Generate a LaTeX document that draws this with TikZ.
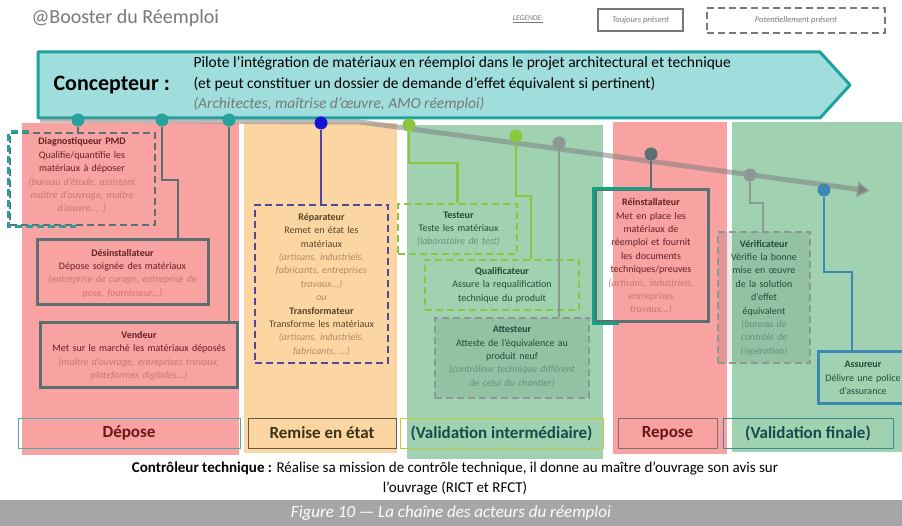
\documentclass[tikz,border=0pt]{standalone}
\usepackage{fontspec}
\setmainfont{Carlito}
\usepackage{xcolor}
\definecolor{pnred}{RGB}{248,162,162}
\definecolor{pnorange}{RGB}{252,214,162}
\definecolor{pngreen}{RGB}{160,210,178}
\definecolor{cfill}{RGB}{160,222,222}
\definecolor{cline}{RGB}{30,162,160}
\definecolor{tealdot}{RGB}{40,160,155}
\definecolor{slate}{RGB}{90,112,112}
\definecolor{purp}{RGB}{80,70,160}
\definecolor{deepblue}{RGB}{20,20,210}
\definecolor{lime}{RGB}{140,198,63}
\definecolor{ash}{RGB}{140,152,148}
\definecolor{skyblue}{RGB}{60,135,180}
\definecolor{ruleteal}{RGB}{20,160,130}
\definecolor{redtext}{RGB}{100,32,36}
\definecolor{redital}{RGB}{205,115,115}
\definecolor{ortext}{RGB}{85,68,40}
\definecolor{orital}{RGB}{175,140,100}
\definecolor{grtext}{RGB}{35,75,55}
\definecolor{grital}{RGB}{105,145,125}
\definecolor{legray}{RGB}{120,120,120}
\definecolor{capgray}{RGB}{166,166,166}
\usetikzlibrary{arrows.meta,positioning}

\begin{document}
\begin{tikzpicture}[x=1pt,y=-1pt,
  actor/.style={draw,line width=3pt,inner sep=0pt},
  maybe/.style={draw,line width=2.6pt,dash pattern=on 7pt off 4pt,inner sep=0pt},
  dot/.style={circle,minimum size=13pt,inner sep=0pt},
  link/.style={line width=2.8pt},
  txt/.style={align=center,text width=200pt,inner sep=0pt,font=\fontsize{10}{13.4}\selectfont},
  stage/.style={draw,line width=0.8pt,inner sep=0pt,font=\fontsize{17}{20}\selectfont\bfseries},
  legbox/.style={draw=legray,inner sep=0pt,font=\fontsize{8.5}{10}\selectfont\itshape,text=legray}
]
  \useasboundingbox (0,0) rectangle (902,526);

  % title and legend
  \node[anchor=west,font=\fontsize{20}{24}\selectfont,text=legray] (title) at (28,18) {@Booster du Réemploi};
  \node[font=\fontsize{7.5}{9}\selectfont\itshape,text=legray] (leg) at (528,19) {\underline{LEGENDE:}};
  \node[legbox,line width=1.5pt,minimum width=85pt,minimum height=22pt] (always) at (640.5,20) {Toujours présent};
  \node[legbox,line width=2pt,dash pattern=on 7pt off 4pt,minimum width=178pt,minimum height=25pt] (maybeleg) at (796,20.5) {Potentiellement présent};

  % columns
  \fill[pnred] (22,123) rectangle (239,455);
  \fill[pnorange] (244,123) rectangle (397,453);
  \fill[pngreen] (407,125) rectangle (603,459);
  \fill[pnred] (613,122) rectangle (727,454);
  \fill[pngreen] (732,122) rectangle (902,452);

  % Concepteur
  \draw[cline,fill=cfill,line width=3pt,line join=round] (38,52) -- (820,52) -- (850,85) -- (820,118) -- (38,118) -- cycle;
  \node[anchor=west,font=\fontsize{22}{26}\selectfont\bfseries] (conc) at (50,85) {Concepteur :};
  \node[anchor=west,font=\fontsize{15.5}{18}\selectfont] (cl1) at (190,63) {Pilote l’intégration de matériaux en réemploi dans le projet architectural et technique};
  \node[anchor=west,font=\fontsize{15.5}{18}\selectfont] (cl2) at (190,84) {(et peut constituer un dossier de demande d’effet équivalent si pertinent)};
  \node[anchor=west,font=\fontsize{15.5}{18}\selectfont\itshape,text=legray] (cl3) at (190,104) {(Architectes, maîtrise d’œuvre, AMO réemploi)};

  % time line
  \coordinate (t0) at (40,120);
  \coordinate (t1) at (360,122);
  \coordinate (t2) at (870,191);
  \draw[gray,draw opacity=0.55,line width=5pt,-{Triangle[length=13pt,width=15pt]}] (t0) -- (t1) -- (t2);

  % actor boxes
  \node[maybe,draw=slate,minimum width=145pt,minimum height=92pt] (diag) at (82.5,179) {};
  \draw[maybe,draw=tealdot] ([xshift=20pt]diag.north west) -- (diag.north west) -- (diag.south west) -- ([xshift=67pt]diag.south west);
  \node[actor,draw=slate,minimum width=171pt,minimum height=65pt] (desinst) at (122.5,272.5) {};
  \node[actor,draw=slate,minimum width=197pt,minimum height=64pt] (vendeur) at (138.5,355) {};
  \node[maybe,draw=purp,minimum width=133pt,minimum height=158pt] (repar) at (321.5,284) {};
  \node[maybe,draw=lime,minimum width=119pt,minimum height=50pt] (testeur) at (457.5,229) {};
  \node[maybe,draw=lime,minimum width=154pt,minimum height=50pt] (qualif) at (502,285) {};
  \node[maybe,draw=ash,fill=black,fill opacity=0.08,minimum width=154pt,minimum height=80pt] (attest) at (512,358) {};
  \node[actor,draw=slate,minimum width=113pt,minimum height=132pt] (reinst) at (651.5,256) {};
  \draw[actor,draw=ruleteal] (reinst.north) -- (reinst.north west) -- (reinst.south west) -- ([xshift=25pt]reinst.south west);
  \node[maybe,draw=ash,fill=black,fill opacity=0.08,minimum width=92pt,minimum height=131pt] (verif) at (764,297.5) {};
  \node[actor,draw=skyblue,minimum width=86pt,minimum height=51pt] (assur) at (861,377.5) {};

  % texts
  \node[txt,text=redtext] (tdiag) at (82,175.5) {\textbf{Diagnostiqueur PMD}\\Qualifie/quantifie les\\matériaux à déposer\\{\itshape\color{redital}(bureau d’étude, assistant\\maître d’ouvrage, maître\\d’œuvre... )}};
  \node[txt,text=redtext] (tdesinst) at (122.5,273.5) {\textbf{Désinstallateur}\\Dépose soignée des matériaux\\{\itshape\color{redital}(entreprise de curage, entreprise de\\pose, fournisseur...)}};
  \node[txt,text=redtext] (tvendeur) at (139,356) {\textbf{Vendeur}\\Met sur le marché les matériaux déposés\\{\itshape\color{redital}(maître d’ouvrage, entreprises travaux,\\plateformes digitales...)}};
  \node[txt,text=ortext] (trepar) at (321.5,284.5) {\textbf{Réparateur}\\Remet en état les\\matériaux\\{\itshape\color{orital}(artisans, industriels,\\fabricants, entreprises\\travaux...)\\ou}\\\textbf{Transformateur}\\Transforme les matériaux\\{\itshape\color{orital}(artisans, industriels,\\fabricants, ...)}};
  \node[txt,text=grtext] (ttesteur) at (458.5,229) {\textbf{Testeur}\\Teste les matériaux\\{\itshape\color{grital}(laboratoire de test)}};
  \node[txt,text=grtext] (tqualif) at (502,285) {\textbf{Qualificateur}\\Assure la requalification\\technique du produit};
  \node[txt,text=grtext] (tattest) at (512,357) {\textbf{Attesteur}\\Atteste de l’équivalence au\\produit neuf\\{\itshape\color{grital}(contrôleur technique différent\\de celui du chantier)}};
  \node[txt,text=redtext] (treinst) at (651,256.5) {\textbf{Réinstallateur}\\Met en place les\\matériaux de\\réemploi et fournit\\les documents\\techniques/preuves\\{\itshape\color{redital}(artisans, industriels,\\entreprises\\travaux...)}};
  \node[txt,text=grtext] (tverif) at (764,298) {\textbf{Vérificateur}\\Vérifie la bonne\\mise en œuvre\\de la solution\\d’effet\\équivalent\\{\itshape\color{grital}(bureau de\\contrôle de\\l’opération)}};
  \node[txt,text=grtext] (tassur) at (863,378) {\textbf{Assureur}\\Délivre une police\\d’assurance};

  % dots on the time line
  \node[dot,fill=tealdot] (d1) at (78,120) {};
  \node[dot,fill=tealdot] (d2) at (162,120) {};
  \node[dot,fill=tealdot] (d3) at (229,120) {};
  \node[dot,fill=deepblue] (d4) at (321,123) {};
  \node[dot,fill=lime] (d5) at (409,125) {};
  \node[dot,fill=lime] (d6) at (516,136) {};
  \node[dot,fill=ash] (d7) at (559,143) {};
  \node[dot,fill=slate] (d8) at (651,154) {};
  \node[dot,fill=ash] (d9) at (750,175) {};
  \node[dot,fill=skyblue] (d10) at (824,190) {};

  % connectors
  \draw[link,slate] (d1) -- (d1 |- diag.north);
  \draw[link,slate] (d2) -- ++(0,60) -| ([xshift=55.5pt]desinst.north);
  \draw[link,slate] (d3) -- (d3 |- vendeur.north);
  \draw[link,purp] (d4) -- (d4 |- repar.north);
  \draw[link,lime] (d5) -- ++(0,38) -| (testeur.north);
  \draw[link,lime] (d6) -- ++(0,60) -| ([xshift=29pt]qualif.north);
  \draw[link,ash] (d7) -- (d7 |- attest.north);
  \draw[link,slate] (d8) -- (d8 |- reinst.north);
  \draw[link,ash] (d9) -- ++(0,28) -| ([xshift=-1pt]verif.north);
  \draw[link,skyblue] (d10) -- ++(0,82) -| ([xshift=-9pt]assur.north);

  % stages
  \node[stage,draw={rgb,255:red,80;green,170;blue,180},text={rgb,255:red,110;green,20;blue,25},minimum width=222pt,minimum height=30pt] (s1) at (129,433) {Dépose};
  \node[stage,draw={rgb,255:red,100;green,90;blue,70},text={rgb,255:red,60;green,50;blue,20},minimum width=148pt,minimum height=30pt] (s2) at (322,433) {Remise en état};
  \node[stage,draw={rgb,255:red,200;green,200;blue,60},text={rgb,255:red,20;green,75;blue,75},minimum width=203pt,minimum height=30pt] (s3) at (501.5,433) {(Validation intermédiaire)};
  \node[stage,draw={rgb,255:red,130;green,110;blue,110},text={rgb,255:red,110;green,20;blue,25},minimum width=99pt,minimum height=30pt] (s4) at (667.5,433) {Repose};
  \node[stage,draw={rgb,255:red,60;green,140;blue,150},text={rgb,255:red,20;green,75;blue,75},minimum width=170pt,minimum height=30pt] (s5) at (808,433) {(Validation finale)};

  % controleur technique
  \node[font=\fontsize{15}{18}\selectfont] (ctrl1) at (455,468) {\textbf{Contrôleur technique :} Réalise sa mission de contrôle technique, il donne au maître d’ouvrage son avis sur};
  \node[font=\fontsize{15}{18}\selectfont] (ctrl2) at (455,488) {l’ouvrage (RICT et RFCT)};

  % caption
  \fill[capgray] (0,500) rectangle (902,526);
  \node[font=\fontsize{17}{20}\selectfont\itshape,text=white] (cap) at (451,513) {Figure 10 — La chaîne des acteurs du réemploi};
\end{tikzpicture}
\end{document}
